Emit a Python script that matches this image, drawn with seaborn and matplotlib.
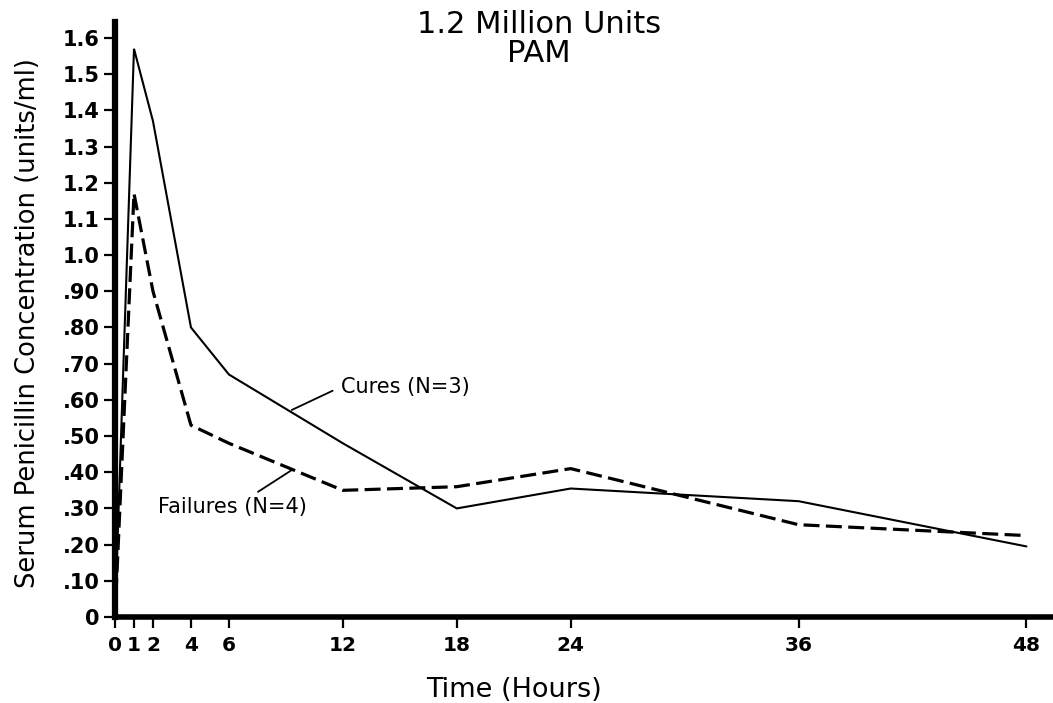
import matplotlib
matplotlib.use("Agg")
import matplotlib.pyplot as plt
import seaborn as sns
import pandas as pd

# ---- data ----
hours = [0, 1, 2, 4, 6, 12, 18, 24, 36, 48]
cures = [0, 1.57, 1.37, 0.80, 0.67, 0.48, 0.30, 0.355, 0.32, 0.195]
failures = [0, 1.17, 0.90, 0.53, 0.48, 0.35, 0.36, 0.41, 0.255, 0.225]

x_ticks = [0, 1, 2, 4, 6, 12, 18, 24, 36, 48]
y_ticks = [0, 0.1, 0.2, 0.3, 0.4, 0.5, 0.6, 0.7, 0.8, 0.9, 1.0, 1.1, 1.2, 1.3, 1.4, 1.5, 1.6]
y_tick_labels = ["0", ".10", ".20", ".30", ".40", ".50", ".60", ".70", ".80", ".90",
                 "1.0", "1.1", "1.2", "1.3", "1.4", "1.5", "1.6"]

title_text = "1.2 Million Units\nPAM"
x_label = "Time (Hours)"
y_label = "Serum Penicillin Concentration (units/ml)"
cures_label = "Cures (N=3)"
failures_label = "Failures (N=4)"

df_c = pd.DataFrame({"hours": hours, "conc": cures})
df_f = pd.DataFrame({"hours": hours, "conc": failures})

sns.set_theme(style="ticks")
plt.rcParams["font.family"] = ["DejaVu Sans"]

fig = plt.figure(figsize=(10.53, 7.03), dpi=100)
ax = fig.add_axes([115 / 1053, (703 - 617) / 703, 1 - 115 / 1053, (617 - 22) / 703])

sns.lineplot(data=df_c, x="hours", y="conc", ax=ax, color="black", linewidth=1.5,
             solid_joinstyle="miter")
sns.lineplot(data=df_f, x="hours", y="conc", ax=ax, color="black", linewidth=2.3,
             linestyle=(0, (5, 2)))

ax.set_xlim(0, 49.4)
ax.set_ylim(0, 1.644)
ax.set_xticks(x_ticks)
ax.set_xticklabels([str(v) for v in x_ticks])
ax.set_yticks(y_ticks)
ax.set_yticklabels(y_tick_labels)
ax.set_xlabel("")
ax.set_ylabel("")

for s in ["top", "right"]:
    ax.spines[s].set_visible(False)
ax.spines["left"].set_linewidth(4.5)
ax.spines["bottom"].set_linewidth(4.0)
ax.spines["left"].set_color("black")
ax.spines["bottom"].set_color("black")
ax.tick_params(axis="both", direction="out", length=8, width=1.6, color="black",
               labelcolor="black", pad=3)
ax.tick_params(axis="x", labelsize=14.5, pad=6)
ax.tick_params(axis="y", labelsize=15)
for lab in ax.get_xticklabels() + ax.get_yticklabels():
    lab.set_fontweight("bold")

fig.text(539 / 1053, 1 - 10 / 703, title_text, ha="center", va="top",
         fontsize=22, linespacing=1.0, color="black")
fig.text(514 / 1053, 1 - 690 / 703, x_label, ha="center", va="center",
         fontsize=19.5, color="black")
fig.text(28 / 1053, 1 - 323 / 703, y_label, ha="center", va="center",
         rotation=90, fontsize=18.5, color="black")

ax.annotate(cures_label, xy=(9.31, 0.572), xytext=(11.9, 0.636),
            fontsize=15, va="center", ha="left", color="black",
            arrowprops=dict(arrowstyle="-", color="black", lw=1.3,
                            relpos=(0, 0.5), shrinkA=4, shrinkB=0))
ax.annotate(failures_label, xy=(9.31, 0.406), xytext=(2.28, 0.305),
            fontsize=15, va="center", ha="left", color="black",
            arrowprops=dict(arrowstyle="-", color="black", lw=1.3,
                            relpos=(0.62, 1.0), shrinkA=2, shrinkB=0))

fig.savefig("out.png", dpi=100, facecolor="white")
